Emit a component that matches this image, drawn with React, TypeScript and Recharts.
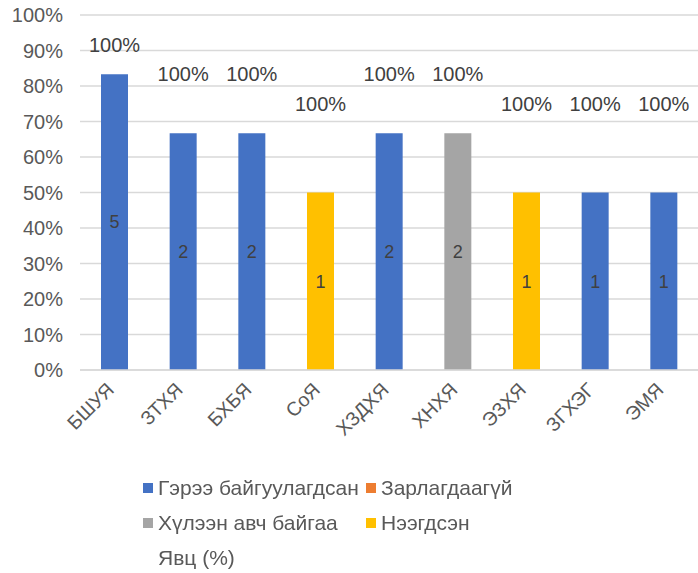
import { BarChart, Bar, XAxis, YAxis, CartesianGrid, LabelList } from "recharts"

// ministries / agencies
const categories = ["БШУЯ", "ЗТХЯ", "БХБЯ", "СоЯ", "ХЗДХЯ", "ХНХЯ", "ЭЗХЯ", "ЗГХЭГ", "ЭМЯ"]

// counts per status
const contracted = [5, 2, 2, 0, 2, 0, 0, 1, 1]
const notAnnounced = [0, 0, 0, 0, 0, 0, 0, 0, 0]
const receiving = [0, 0, 0, 0, 0, 2, 0, 0, 0]
const opened = [0, 0, 0, 1, 0, 0, 1, 0, 0]
// progress (1 = 100%)
const progress = [1, 1, 1, 1, 1, 1, 1, 1, 1]

const yTicks = [0, 0.1, 0.2, 0.3, 0.4, 0.5, 0.6, 0.7, 0.8, 0.9, 1]

const seriesNames = ["Гэрээ байгуулагдсан", "Зарлагдаагүй", "Хүлээн авч байгаа", "Нээгдсэн", "Явц (%)"]

const data = categories.map((name, i) => ({
  name,
  contracted: contracted[i],
  notAnnounced: notAnnounced[i],
  receiving: receiving[i],
  opened: opened[i],
  progress: progress[i],
}))

const FONT = "'Liberation Sans', Arial, sans-serif"
const AXIS_TEXT = "#595959"

const XTick = (props: any) => {
  const { x, y, payload } = props
  const tx = x + 1
  const ty = y + 13
  return (
    <text
      x={tx}
      y={ty}
      transform={`rotate(-45, ${tx}, ${ty})`}
      textAnchor="end"
      fill={AXIS_TEXT}
      fontSize={19.5}
      fontFamily={FONT}
    >
      {payload.value}
    </text>
  )
}

const countLabel = (v: any) => (v ? String(v) : "")

const legendRows = [
  [
    { name: seriesNames[0], color: "#4472C4" },
    { name: seriesNames[1], color: "#ED7D31" },
  ],
  [
    { name: seriesNames[2], color: "#A5A5A5" },
    { name: seriesNames[3], color: "#FFC000" },
  ],
  [{ name: seriesNames[4], color: "" }],
]

export default function App() {
  return (
    <div style={{ position: "fixed", left: 0, top: 0, width: 698, height: 573, background: "#fff" }}>
      <BarChart
        width={698}
        height={573}
        data={data}
        stackOffset="expand"
        margin={{ top: 15, right: 0, left: 0, bottom: 143 }}
      >
        <CartesianGrid vertical={false} stroke="#D9D9D9" strokeWidth={1.3} />
        <XAxis
          dataKey="name"
          height={60}
          interval={0}
          tickLine={false}
          axisLine={{ stroke: "#D9D9D9", strokeWidth: 1.5 }}
          tick={<XTick />}
        />
        <YAxis
          width={80}
          domain={[0, 1]}
          ticks={yTicks}
          tickFormatter={(v: number) => `${Math.round(v * 100)}%`}
          axisLine={false}
          tickLine={false}
          tickMargin={11}
          tick={{ fill: AXIS_TEXT, fontSize: 20, fontFamily: FONT }}
        />
        <Bar dataKey="contracted" name={seriesNames[0]} stackId="a" fill="#4472C4" barSize={27} isAnimationActive={false}>
          <LabelList dataKey="contracted" position="center" formatter={countLabel} fill="#404040" fontSize={18} fontFamily={FONT} />
        </Bar>
        <Bar dataKey="notAnnounced" name={seriesNames[1]} stackId="a" fill="#ED7D31" barSize={27} isAnimationActive={false}>
          <LabelList dataKey="notAnnounced" position="center" formatter={countLabel} fill="#404040" fontSize={18} fontFamily={FONT} />
        </Bar>
        <Bar dataKey="receiving" name={seriesNames[2]} stackId="a" fill="#A5A5A5" barSize={27} isAnimationActive={false}>
          <LabelList dataKey="receiving" position="center" formatter={countLabel} fill="#404040" fontSize={18} fontFamily={FONT} />
        </Bar>
        <Bar dataKey="opened" name={seriesNames[3]} stackId="a" fill="#FFC000" barSize={27} isAnimationActive={false}>
          <LabelList dataKey="opened" position="center" formatter={countLabel} fill="#404040" fontSize={18} fontFamily={FONT} />
        </Bar>
        <Bar dataKey="progress" name={seriesNames[4]} stackId="a" fill="none" barSize={27} isAnimationActive={false}>
          <LabelList
            dataKey="progress"
            position="center"
            formatter={(v: any) => `${Math.round(Number(v) * 100)}%`}
            fill="#404040"
            fontSize={20}
            fontFamily={FONT}
          />
        </Bar>
      </BarChart>
      <div style={{ position: "absolute", left: 143, top: 470, fontFamily: FONT, fontSize: 21, color: AXIS_TEXT }}>
        {legendRows.map((row, r) => (
          <div key={r} style={{ display: "flex", height: 35, alignItems: "center" }}>
            {row.map((item, k) => (
              <div key={k} style={{ display: "flex", alignItems: "center", width: k === 0 ? 223 : "auto" }}>
                <span style={{ display: "inline-block", width: 10, height: 10, background: item.color || "transparent", marginRight: 5 }} />
                <span>{item.name}</span>
              </div>
            ))}
          </div>
        ))}
      </div>
    </div>
  )
}
